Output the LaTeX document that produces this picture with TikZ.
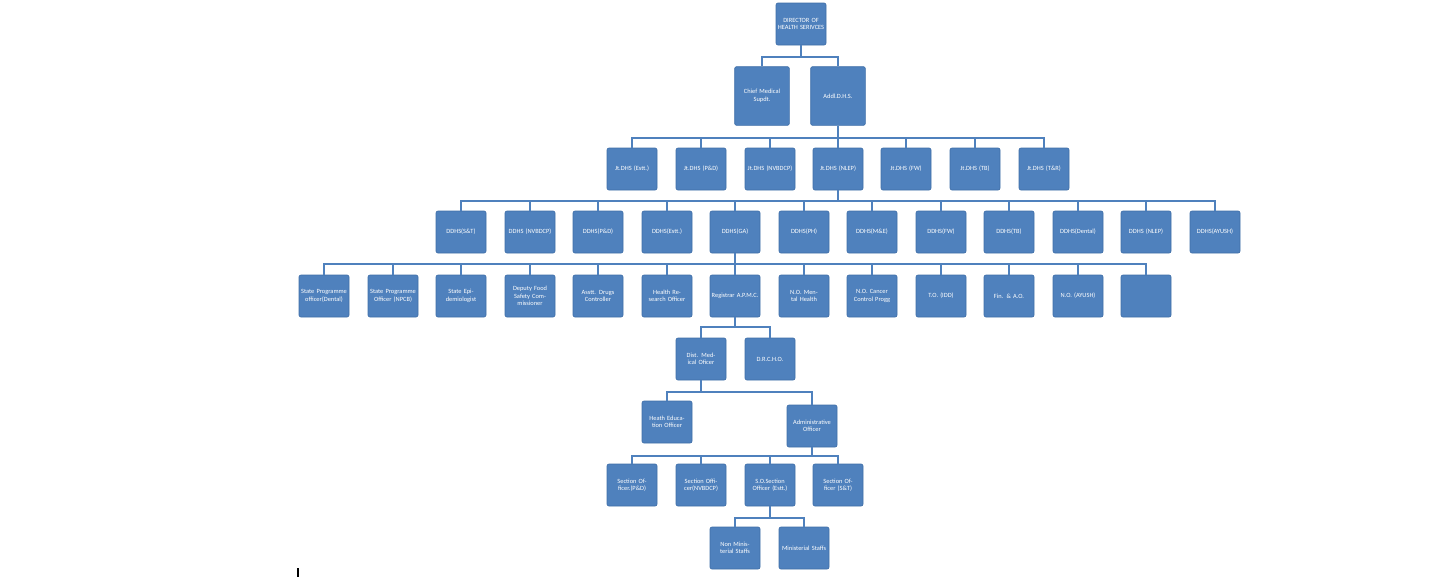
\documentclass[tikz,border=0pt]{standalone}
\usepackage{fontspec}
\setmainfont{Carlito}
\definecolor{bx}{HTML}{4F81BD}
\definecolor{bd}{HTML}{3F6FA8}
\begin{document}
\begin{tikzpicture}[x=0.75pt,y=-0.75pt,
 box/.style={draw=bd,fill=bx,rounded corners=1.5pt,line width=0.5pt,minimum width=37.5pt,minimum height=31.5pt,text width=35pt,align=center,inner sep=0.5pt,text=white,font=\fontsize{4.8}{5.6}\selectfont},
 tall/.style={box,minimum height=44pt,minimum width=41pt},
 ln/.style={draw=bx,line width=2.2pt}]
\useasboundingbox (0,0) rectangle (1456,586);
\node[box] (dhs) at (801,24) {DIRECTOR OF HEALTH SERIVCES};
\node[tall] (cms) at (762,96) {Chief Medical\\Supdt.};
\node[tall] (addl) at (838,96) {Addl.D.H.S.};
\foreach \n/\x/\t in {j1/632/Jt.DHS (Estt.),j2/701/Jt.DHS (P\&D),j3/770/Jt.DHS (NVBDCP),j4/838/Jt.DHS (NLEP),j5/906/Jt.DHS (FW),j6/975/Jt.DHS (TB),j7/1044/Jt.DHS (T\&R)}
  \node[box] (\n) at (\x,169) {\t};
\foreach \n/\x/\t in {d1/461/DDHS(S\&T),d2/530/DDHS (NVBDCP),d3/598/DDHS(P\&D),d4/667/DDHS(Estt.),d5/735/DDHS(GA),d6/804/DDHS(PH),d7/872/DDHS(M\&E),d8/941/DDHS(FW),d9/1009/DDHS(TB),d10/1078/DDHS(Dental),d11/1146/DDHS (NLEP),d12/1215/DDHS(AYUSH)}
  \node[box] (\n) at (\x,232) {\t};
\foreach \n/\x/\t in {s1/324/State Programme officer(Dental),s2/393/State Programme Officer (NPCB),s3/461/State Epidemiologist,s4/530/Deputy Food Safety Commissioner,s5/598/Asstt. Drugs Controller,s6/667/Health Research Officer,s7/735/Registrar A.P.M.C.,s8/804/N.O. Mental Health,s9/872/N.O. Cancer Control Progg,s10/941/T.O. (IDD),s11/1009/Fin. \& A.O.,s12/1078/N.O. (AYUSH),s13/1146/{}}
  \node[box] (\n) at (\x,296) {\t};
\node[box] (dmo) at (701,359) {Dist. Medical Oficer};
\node[box] (drc) at (770,359) {D.R.C.H.O.};
\node[box] (heo) at (667,422) {Heath Education Officer};
\node[box] (ao) at (812,426) {Administrative Officer};
\foreach \n/\x/\t in {o1/632/Section Officer.(P\&D),o2/701/Section Officer(NVBDCP),o3/770/S.O.Section Officer (Estt.),o4/838/Section Officer (S\&T)}
  \node[box] (\n) at (\x,485) {\t};
\node[box] (nm) at (735,548) {Non Ministerial Staffs};
\node[box] (ms) at (804,548) {Ministerial Staffs};
% connectors
\draw[ln] (dhs.south) |- (cms.north |- 0,57) -- (cms.north);
\draw[ln] (dhs.south) |- (addl.north |- 0,57) -- (addl.north);
\draw[ln] (addl.south) -- (addl.south |- 0,138);
\draw[ln] (j1.north) |- (j7.north |- 0,138) -- (j7.north);
\foreach \n in {j2,j3,j4,j5,j6} \draw[ln] (\n.north) -- (\n.north |- 0,138);
\draw[ln] (j4.south) -- (j4.south |- 0,201);
\draw[ln] (d1.north) |- (d12.north |- 0,201) -- (d12.north);
\foreach \n in {d2,d3,d4,d5,d6,d7,d8,d9,d10,d11} \draw[ln] (\n.north) -- (\n.north |- 0,201);
\draw[ln] (d5.south) -- (d5.south |- 0,264);
\draw[ln] (s1.north) |- (s13.north |- 0,264) -- (s13.north);
\foreach \n in {s2,s3,s4,s5,s6,s7,s8,s9,s10,s11,s12} \draw[ln] (\n.north) -- (\n.north |- 0,264);
\draw[ln] (s7.south) -- (s7.south |- 0,327);
\draw[ln] (dmo.north) |- (drc.north |- 0,327) -- (drc.north);
\draw[ln] (dmo.south) -- (dmo.south |- 0,392);
\draw[ln] (heo.north) |- (ao.north |- 0,392) -- (ao.north);
\draw[ln] (ao.south) -- (ao.south |- 0,456);
\draw[ln] (o1.north) |- (o4.north |- 0,456) -- (o4.north);
\foreach \n in {o2,o3} \draw[ln] (\n.north) -- (\n.north |- 0,456);
\draw[ln] (o3.south) -- (o3.south |- 0,518);
\draw[ln] (nm.north) |- (ms.north |- 0,518) -- (ms.north);
\coordinate (t1) at (298,568); \coordinate (t2) at (298,577);
\draw[line width=0.8pt] (t1) -- (t2);
\end{tikzpicture}
\end{document}
